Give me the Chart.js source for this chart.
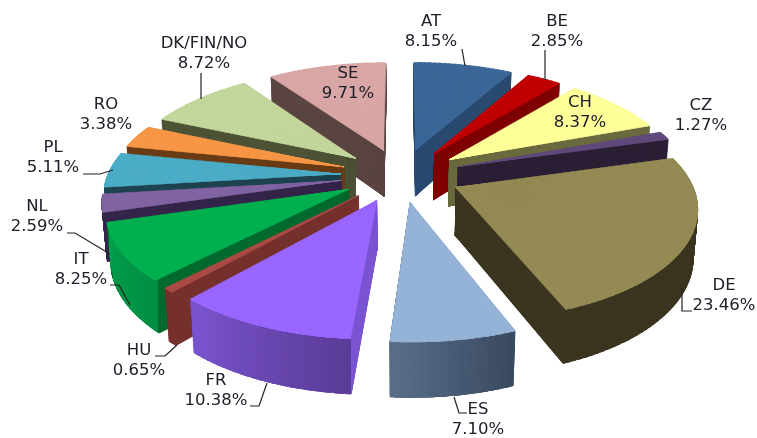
<!DOCTYPE html>
<html><head><meta charset="utf-8">
<style>html,body{margin:0;padding:0;background:#fff}canvas{display:block}</style>
<script src="https://cdn.jsdelivr.net/npm/chart.js@4"></script>
</head><body>
<canvas id="c" width="757" height="438"></canvas>
<script>
const categories = ['AT','BE','CH','CZ','DE','ES','FR','HU','IT','NL','PL','RO','DK/FIN/NO','SE'];
const shares = [8.15,2.85,8.37,1.27,23.46,7.10,10.38,0.65,8.25,2.59,5.11,3.38,8.72,9.71];
const topColors = ['#3B6798','#C00000','#FFFF99','#604A7B','#948A54','#95B3D7','#9966FF','#AB4A45','#00B050','#8064A2','#4BACC6','#F79646','#C3D69B','#D8A6A4'];
const wallColors = ['#2A4A70','#7F0000','#6B6B40','#2C2035','#3C3621','#3F4F66','#7B55D2','#76322E','#006B30','#35264A','#1F4450','#6A3D17','#4E5437','#5A4542'];
const rimColors = {5:['#3A4A60','#5A6E8A'],6:['#5A3C96','#7B55D0'],8:['#008F44','#00A04C']};
const labelSpots = [[431,22],[557,22],[580,103],[701,106],[724,286],[478,410],[216,381],[139,351],[81,260],[37,207],[53,148],[106,105],[204,44],[348,74]];
const leaders = [
  [[462,49],[465,66]],[[545,50],[545,80]],null,null,
  [[692,311],[682,311],[682,288]],[[467,413],[459,413],[454,397]],
  [[250,406],[259,406],[267,383]],[[155,356],[165,356],[177,345]],
  [[110,285],[119,285],[130,305]],[[67,233],[75,233],[110,254]],
  [[83,174],[100,174],[113,170]],null,[[201,73],[201,99]],null
];
// camera of the tilted pie, in units of the pie radius
const cam = {cx:401,cy:175,A:233,B:108,C:48,k:0.155,m:0.015,explodeU:0.259,explodeV:0.25};
const project = (u,v,z)=>{const w=1-cam.k*v+cam.m*z;return [cam.cx+cam.A*u/w,cam.cy+(cam.B*v+cam.C*z)/w];};
const lerpHex=(a,b,t)=>{const p=s=>[1,3,5].map(i=>parseInt(s.substr(i,2),16));const A=p(a),B=p(b);
  return 'rgb('+A.map((x,i)=>Math.round(x+(B[i]-x)*t)).join(',')+')';};

function drawWedge(ctx,arc,a0,a1,mid,z,end,color,saved,edge){
  const X=arc.x,Y=arc.y,R=saved.R;
  const ex=cam.explodeU*Math.cos(mid),ey=cam.explodeV*Math.sin(mid);
  const d0=project(ex,ey,z),
        d1=project(ex+Math.cos(a0),ey+Math.sin(a0),z),
        d2=project(ex+Math.cos(a1),ey+Math.sin(a1),z);
  const s1x=R*Math.cos(a0),s1y=R*Math.sin(a0),s2x=R*Math.cos(a1),s2y=R*Math.sin(a1);
  const det=s1x*s2y-s2x*s1y;
  const v1x=d1[0]-d0[0],v1y=d1[1]-d0[1],v2x=d2[0]-d0[0],v2y=d2[1]-d0[1];
  const a=(v1x*s2y-v2x*s1y)/det,c=(-v1x*s2x+v2x*s1x)/det,
        b=(v1y*s2y-v2y*s1y)/det,d=(-v1y*s2x+v2y*s1x)/det;
  ctx.save();
  ctx.transform(a,b,c,d,d0[0]-a*X-c*Y,d0[1]-b*X-d*Y);
  arc.startAngle=a0;arc.endAngle=end;arc.circumference=end-a0;
  arc.options=Object.assign({},saved.options,{backgroundColor:color,borderColor:color,borderWidth:edge||0});
  arc.draw(ctx);
  ctx.restore();
}

const tiltedPie={
  id:'tiltedPie',
  beforeDatasetDraw(chart){
    const ctx=chart.ctx,arcs=chart.getDatasetMeta(0).data;
    const order=arcs.map((a,i)=>i).sort((p,q)=>
      Math.sin((arcs[p].startAngle+arcs[p].endAngle)/2)-Math.sin((arcs[q].startAngle+arcs[q].endAngle)/2));
    const STEP=Math.PI/120,LAYERS=70,OVER=0.012;
    order.forEach(i=>{
      const arc=arcs[i];
      const saved={options:arc.options,R:arc.outerRadius,s:arc.startAngle,e:arc.endAngle,c:arc.circumference};
      const mid=(saved.s+saved.e)/2;
      const n=Math.max(1,Math.ceil((saved.e-saved.s)/STEP));
      const da=(saved.e-saved.s)/n;
      const forEachWedge=fn=>{for(let j=0;j<n;j++){const a0=saved.s+j*da,a1=a0+da;
        fn(j,a0,a1,j<n-1?a1+OVER:a1);}};
      for(let l=LAYERS;l>=1;l--){
        const z=l/LAYERS;
        forEachWedge((j,a0,a1,end)=>drawWedge(ctx,arc,a0,a1,mid,z,end,wallColors[i],saved,1));
      }
      if(rimColors[i]){
        forEachWedge((j,a0,a1,end)=>{
          const ex=cam.explodeU*Math.cos(mid),ey=cam.explodeV*Math.sin(mid);
          const x0=project(ex+Math.cos(a0),ey+Math.sin(a0),0.5)[0],
                x1=project(ex+Math.cos(a1),ey+Math.sin(a1),0.5)[0];
          const col=lerpHex(rimColors[i][0],rimColors[i][1],(j+0.5)/n);
          const left=Math.floor(Math.min(x0,x1)),right=Math.ceil(Math.max(x0,x1));
          ctx.save();ctx.beginPath();
          ctx.rect(left,0,right-left,438);ctx.clip();
          for(let l=LAYERS;l>=1;l--) drawWedge(ctx,arc,a0,a1,mid,l/LAYERS,end,col,saved,1);
          ctx.restore();
        });
      }
      forEachWedge((j,a0,a1,end)=>drawWedge(ctx,arc,a0,a1,mid,0,end,topColors[i],saved,1));
      arc.options=saved.options;arc.startAngle=saved.s;arc.endAngle=saved.e;arc.circumference=saved.c;
    });
    return false;
  },
  afterDraw(chart){
    const ctx=chart.ctx;
    ctx.save();
    ctx.strokeStyle='#222';ctx.lineWidth=1.2;
    leaders.forEach(p=>{ if(!p) return;
      ctx.beginPath();p.forEach((q,i)=>i?ctx.lineTo(q[0],q[1]):ctx.moveTo(q[0],q[1]));ctx.stroke();});
    ctx.fillStyle='#20202c';ctx.font='16.5px "DejaVu Sans"';ctx.textAlign='center';ctx.textBaseline='middle';
    categories.forEach((name,i)=>{
      const [x,y]=labelSpots[i];
      ctx.fillText(name,x,y);
      ctx.fillText(shares[i].toFixed(2)+'%',x,y+20);
    });
    ctx.restore();
  }
};

new Chart(document.getElementById('c'),{
  type:'pie',
  data:{labels:categories,datasets:[{data:shares,backgroundColor:topColors,borderWidth:0}]},
  options:{responsive:false,animation:false,
    plugins:{legend:{display:false},tooltip:{enabled:false}}},
  plugins:[tiltedPie]
});
</script>
</body></html>
